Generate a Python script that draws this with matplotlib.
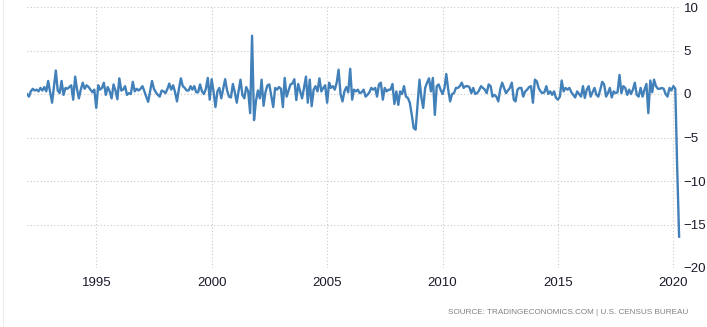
import pandas as pd
import matplotlib.pyplot as plt
import matplotlib.dates as mdates
from matplotlib.lines import Line2D

# US retail sales MoM (%), monthly Jan 1992 - Apr 2020
y1992 = [0.0, -0.3, 0.3, 0.6, 0.4, 0.5, 0.3, 0.7, 0.4, 0.8, 0.3, 1.5]
y1993 = [0.2, -1.0, 0.8, 2.7, 0.4, 0.1, 1.5, -0.1, 0.7, 0.6, 0.8, 1.0]
y1994 = [-0.65, 2.0, 0.6, -0.5, 0.5, 1.3, 0.6, 1.0, 0.8, 0.5, 0.2, 0.5]
y1995 = [-1.6, 1.0, 0.5, 0.7, 1.3, -0.1, 0.8, 0.3, -0.5, 1.1, 0.4, -0.6]
y1996 = [1.8, 0.4, 0.5, 0.9, -0.1, 0.1, 0.0, 1.4, 0.3, 0.6, 0.4, 0.6]
y1997 = [0.9, 0.3, -0.3, -0.9, 0.3, 1.5, 0.6, 0.2, -0.1, -0.3, 0.4, 0.3]
y1998 = [0.1, 0.6, 1.2, 0.5, 1.0, 0.2, -0.85, 0.6, 1.8, 0.9, 0.7, 0.4]
y1999 = [0.4, 0.9, 0.5, 0.9, 0.2, 0.2, 1.1, 0.3, 0.0, 0.6, 1.85, -0.65]
y2000 = [1.7, 0.2, -1.5, 0.3, 0.7, -0.5, 0.6, 1.7, 0.4, -0.3, -0.4, 1.15]
y2001 = [0.2, -1.0, 0.3, 1.65, -0.1, -0.5, 0.8, 0.3, -2.2, 6.7, -3.0, -0.85]
y2002 = [0.4, -0.5, 1.65, -1.35, 0.2, 1.0, 1.1, -0.2, -1.5, 0.7, 0.5, 0.8]
y2003 = [0.6, -1.5, 1.85, -0.3, 0.4, 1.1, 1.2, 1.7, -0.7, 1.15, 0.3, -0.5]
y2004 = [0.7, 2.0, -1.0, 1.65, -1.4, 0.5, 0.9, 0.3, 1.8, 0.3, 0.7, 1.0]
y2005 = [-1.0, 1.3, 0.7, 0.9, 0.5, 1.3, 2.8, 0.0, -0.85, 0.3, 0.8, 0.2]
y2006 = [2.9, -0.65, 0.5, 0.3, 0.5, 0.1, 0.2, 0.5, -0.3, -0.1, 0.2, 0.7]
y2007 = [0.5, 0.7, -0.3, 1.1, 1.3, -0.65, 0.7, 0.3, 0.5, 0.5, 1.15, -1.15]
y2008 = [0.3, -1.25, 0.3, 0.0, 0.9, -0.3, -0.45, -1.0, -2.4, -3.9, -4.1, -1.2]
y2009 = [1.65, -0.45, -1.6, 0.7, 1.3, 1.8, 0.3, 1.85, -2.4, 0.9, 1.1, 0.5]
y2010 = [0.0, 0.7, 2.3, 0.5, -0.85, 0.0, 0.1, 0.7, 0.7, 0.9, 1.3, 0.7]
y2011 = [0.9, 0.9, 0.8, 0.1, 0.7, 0.0, 0.1, 0.4, 0.9, 0.7, 0.5, 0.1]
y2012 = [1.1, 0.9, -0.3, -0.1, -0.3, -0.85, 0.5, 1.3, 0.7, 0.1, 0.4, 0.7]
y2013 = [1.3, -0.65, -0.85, 0.5, 0.7, 0.7, -0.3, 0.3, 0.5, 0.8, 0.9, -1.0]
y2014 = [1.65, 1.45, 0.7, 0.3, 0.1, 0.2, 0.9, 0.0, 0.3, -0.1, 0.3, -0.45]
y2015 = [-0.65, -0.3, 1.55, 0.3, 0.7, 0.5, 0.7, 0.2, -0.1, -0.4, 0.3, 0.0]
y2016 = [-0.3, 0.9, -0.45, 0.5, 0.9, -0.3, 0.2, 0.7, -0.1, -0.3, 0.5, 1.4]
y2017 = [1.1, -0.3, 0.1, 0.7, -0.4, 0.3, 0.1, 0.2, 2.2, 0.1, 0.9, 0.7]
y2018 = [-0.1, 0.5, 0.0, 0.5, 1.3, -0.1, -0.3, 0.7, -0.3, 0.5, 1.15, -2.2]
y2019 = [1.55, 0.2, 1.65, 0.9, 0.6, 0.6, 0.7, 0.6, 0.0, -0.3, 0.7, 0.4]
y2020 = [0.9, 0.6, -8.3, -16.4]

values = (y1992 + y1993 + y1994 + y1995 + y1996 + y1997 + y1998 + y1999 + y2000
          + y2001 + y2002 + y2003 + y2004 + y2005 + y2006 + y2007 + y2008 + y2009
          + y2010 + y2011 + y2012 + y2013 + y2014 + y2015 + y2016 + y2017 + y2018
          + y2019 + y2020)
dates = pd.date_range("1992-01-01", periods=len(values), freq="MS")

year_ticks = [1995, 2000, 2005, 2010, 2015, 2020]
y_ticks = [-20, -15, -10, -5, 0, 5, 10]
source = "SOURCE: TRADINGECONOMICS.COM | U.S. CENSUS BUREAU"

plt.rcParams['font.family'] = ['Liberation Sans', 'DejaVu Sans']

fig = plt.figure(figsize=(7.07, 3.27), dpi=100)
ax = fig.add_axes([27 / 707, 59 / 327, 654 / 707, 261 / 327])

ax.plot(dates, values, color='#4180b8', lw=1.7, solid_joinstyle='round')

ax.set_xlim(pd.Timestamp("1992-01-01"), pd.Timestamp("2020-05-01"))
ax.set_ylim(-20, 10)
ax.set_xticks([pd.Timestamp(f"{y}-01-01") for y in year_ticks])
ax.xaxis.set_major_formatter(mdates.DateFormatter("%Y"))
ax.set_yticks(y_ticks)
ax.yaxis.tick_right()
ax.tick_params(axis='y', length=0, pad=2, labelsize=9.5, labelcolor='#1a1a2a')
ax.tick_params(axis='x', length=0, pad=6.5, labelsize=9.5, labelcolor='#1a1a2a')

ax.grid(True, color='#c8c8c8', linestyle=(0, (1, 2)), lw=0.8)
ax.set_axisbelow(True)
for s in ax.spines.values():
    s.set_visible(False)

# faint page border on the far left
fig.add_artist(Line2D([3 / 707, 3 / 707], [0, 1], color='#eeeeee', lw=0.8))

fig.text(688 / 707, 1 - 313 / 327, source, ha='right', va='center',
         fontsize=5.9, color='#808080')

fig.savefig("out.png", dpi=100)
